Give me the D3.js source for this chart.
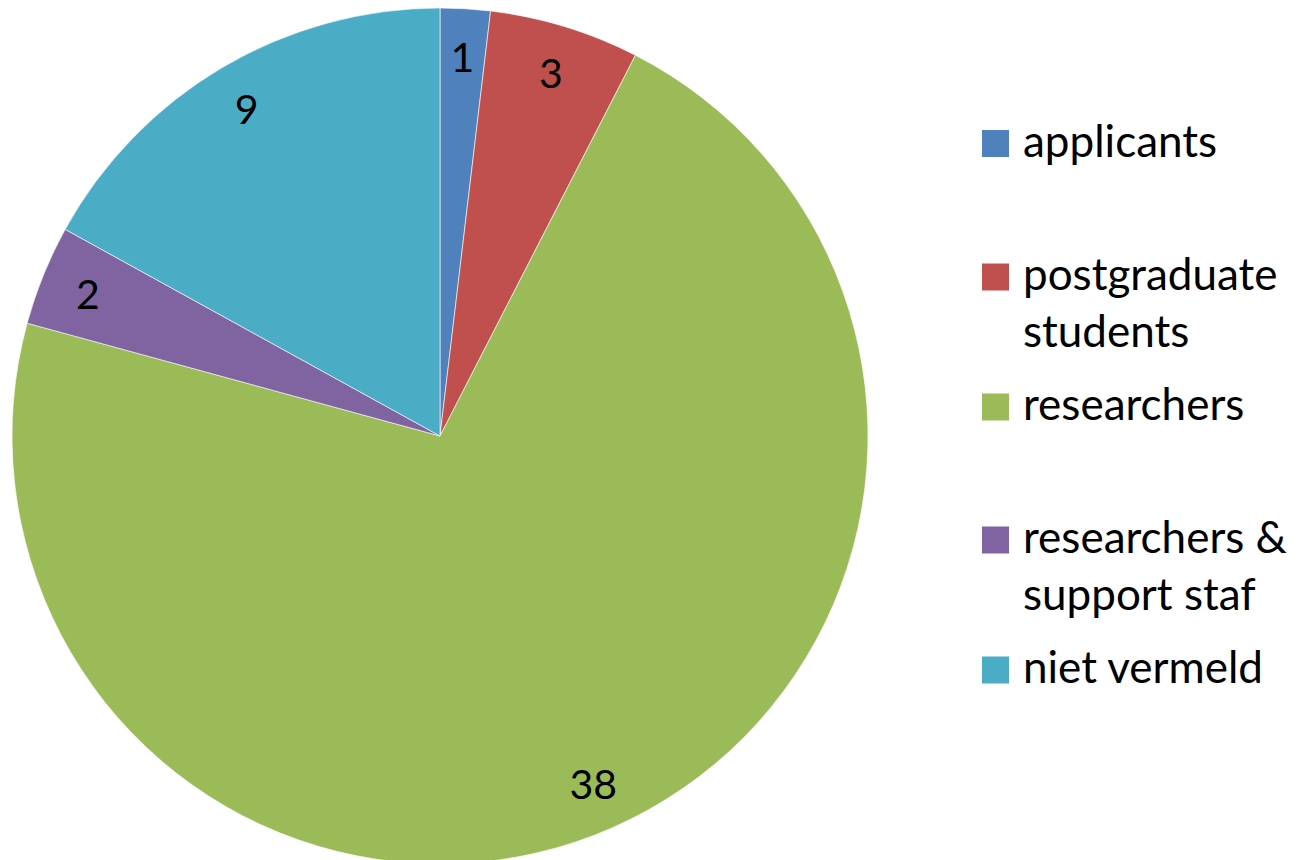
<!DOCTYPE html>
<html>
<head>
<meta charset="utf-8">
<script src="https://cdn.jsdelivr.net/npm/d3@7"></script>
<style>
  body { margin: 0; background: #fff; }
  text { font-family: Lato, "Open Sans", sans-serif; }
</style>
</head>
<body>
<svg id="chart" width="1299" height="860"></svg>
<script>
// chart data
let categories = ["applicants", "postgraduate students", "researchers", "researchers & support staf", "niet vermeld"];
let values = [1, 3, 38, 2, 9];
let colors = ["#4F81BD", "#C0504D", "#9BBB59", "#8064A2", "#4BACC6"];
// legend lines (wrapped like the original)
let legendLines = [["applicants"], ["postgraduate", "students"], ["researchers"], ["researchers &", "support staf"], ["niet vermeld"]];

let cx = 440, cy = 436, radius = 428;
let svg = d3.select("#chart");

let pie = d3.pie().sort(null).value(d => d);
let arc = d3.arc().innerRadius(0).outerRadius(radius);
let labelArc = d3.arc().innerRadius(380).outerRadius(380);

let g = svg.append("g").attr("transform", `translate(${cx},${cy})`);

let slices = g.selectAll("g.slice")
    .data(pie(values))
    .enter()
    .append("g")
    .attr("class", "slice");

slices.append("path")
    .attr("d", arc)
    .attr("fill", (d, i) => colors[i])
    .attr("stroke", "rgba(255,255,255,0.6)")
    .attr("stroke-width", 1);

slices.append("text")
    .attr("transform", d => `translate(${labelArc.centroid(d)})`)
    .attr("text-anchor", "middle")
    .attr("dominant-baseline", "central")
    .attr("font-size", 41)
    .attr("fill", "#000")
    .text(d => d.data);

// legend
let legendY = [143.5, 277, 407, 540, 670];
let lineGap = 57;
let legend = svg.append("g");
let items = legend.selectAll("g")
    .data(categories)
    .enter()
    .append("g")
    .attr("transform", (d, i) => `translate(982,${legendY[i]})`);

items.append("rect")
    .attr("x", 0).attr("y", -13.5)
    .attr("width", 27).attr("height", 27)
    .attr("fill", (d, i) => colors[i]);

items.each(function (d, i) {
    let t = d3.select(this).append("text")
        .attr("x", 41)
        .attr("font-size", 44)
        .attr("fill", "#000");
    legendLines[i].forEach((line, j) => {
        t.append("tspan")
            .attr("x", 41)
            .attr("y", 13 + j * lineGap)
            .text(line);
    });
});
</script>
</body>
</html>
